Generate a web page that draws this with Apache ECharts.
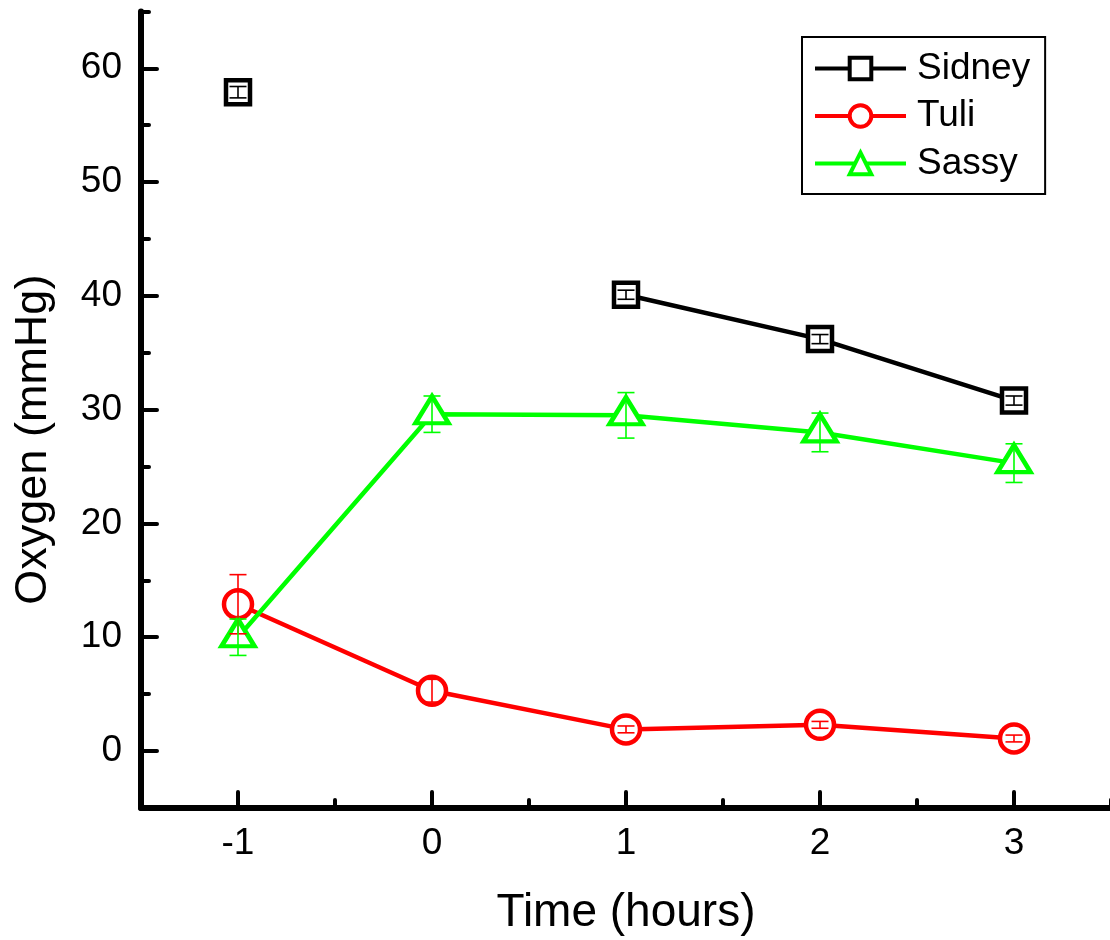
<!DOCTYPE html>
<html><head><meta charset="utf-8">
<script src="https://cdn.jsdelivr.net/npm/echarts@6/dist/echarts.min.js"></script>
<style>html,body{margin:0;padding:0;background:#fff}#c{width:1110px;height:940px}</style>
</head><body><div id="c"></div>
<script>
// ---- data ----
const times = [-1, 0, 1, 2, 3];
const seriesNames = ['Sidney', 'Tuli', 'Sassy'];
const sidney = [57.9, null, 40.1, 36.2, 30.8];
const sidneyErr = [0.5, null, 0.4, 0.4, 0.4];
const tuli = [12.9, 5.3, 1.9, 2.3, 1.1];
const tuliErr = [2.6, 1.0, 0.3, 0.3, 0.3];
const sassy = [10.0, 29.6, 29.5, 28.0, 25.3];
const sassyErr = [1.6, 1.6, 2.0, 1.7, 1.7];
const xTickLabels = [-1, 0, 1, 2, 3];
const yTickLabels = [0, 10, 20, 30, 40, 50, 60];
const xRange = [-1.5, 3.5];
const yRange = [-5, 65];
const xMinorStep = 0.5;
const yMinorStep = 5;

// ---- helpers ----
const FONT = '"Liberation Sans", Arial, sans-serif';
const near = (a, b) => Math.abs(a - b) < 1e-6;
function steps(r, s) { const out = []; for (let v = r[0]; v <= r[1] + 1e-9; v += s) out.push(+v.toFixed(6)); return out; }
const xCats = steps(xRange, xMinorStep);
const yCats = steps(yRange, yMinorStep);
const xMajor = (i) => xTickLabels.some(t => near(t, xCats[i]));
const yMajor = (i) => yTickLabels.some(t => near(t, yCats[i]));

const colors = { Sidney: '#000000', Tuli: '#ff0000', Sassy: '#00ff00' };

function lineSeries(name, vals, symbol, size, offset) {
  return {
    name, type: 'line', xAxisIndex: 0, yAxisIndex: 0, z: 2,
    data: times.map((t, i) => [t, vals[i] == null ? '-' : vals[i]]),
    symbol, symbolSize: size, symbolOffset: offset || [0, 0], showSymbol: true,
    itemStyle: { color: '#ffffff', borderColor: colors[name], borderWidth: 4.5 },
    lineStyle: { color: colors[name], width: 4.5 },
    emphasis: { disabled: true }, animation: false
  };
}
function errSeries(name, vals, errs) {
  const c = colors[name];
  return {
    type: 'custom', xAxisIndex: 0, yAxisIndex: 0, z: 5, silent: true, animation: false,
    data: times.map((t, i) => vals[i] == null ? null : [t, vals[i] - errs[i], vals[i] + errs[i]]).filter(Boolean),
    encode: { x: 0, y: [1, 2] },
    renderItem(params, api) {
      const lo = api.coord([api.value(0), api.value(1)]);
      const hi = api.coord([api.value(0), api.value(2)]);
      const w = 8.5, st = { stroke: c, lineWidth: 1.6 };
      return { type: 'group', children: [
        { type: 'line', shape: { x1: hi[0], y1: hi[1], x2: lo[0], y2: lo[1] }, style: st },
        { type: 'line', shape: { x1: hi[0] - w, y1: hi[1], x2: hi[0] + w, y2: hi[1] }, style: st },
        { type: 'line', shape: { x1: lo[0] - w, y1: lo[1], x2: lo[0] + w, y2: lo[1] }, style: st }
      ]};
    }
  };
}

const axisLineStyle = { color: '#000', width: 6, cap: 'round' };
const tickStyle = { color: '#000', width: 4, cap: 'round' };

const option = {
  animation: false,
  backgroundColor: '#fff',
  textStyle: { fontFamily: FONT },
  grid: { left: 141, right: -1, top: 11.4, bottom: 132.1, containLabel: false, outerBoundsMode: 'none' },
  legend: {
    data: seriesNames, orient: 'vertical', left: 802, top: 37,
    padding: [13, 15, 12, 11], borderColor: '#000', borderWidth: 2,
    itemWidth: 91, itemHeight: 27, itemGap: 10.5,
    itemStyle: { borderWidth: 4 }, lineStyle: { width: 4 },
    textStyle: { fontSize: 37, color: '#000', fontFamily: FONT, padding: [0, 0, 0, 6] }
  },
  xAxis: [
    {
      type: 'value', min: xRange[0], max: xRange[1], interval: xMinorStep, position: 'bottom',
      axisLine: { onZero: false, lineStyle: axisLineStyle },
      axisTick: { inside: true, length: 8, lineStyle: tickStyle },
      axisLabel: {
        fontSize: 37, color: '#000', fontFamily: FONT, margin: 17,
        formatter: v => { const t = xTickLabels.find(x => near(x, v)); return t === undefined ? '' : String(t); }
      },
      splitLine: { show: false },
      name: 'Time (hours)', nameLocation: 'middle', nameGap: 82,
      nameTextStyle: { fontSize: 46, color: '#000', fontFamily: FONT }
    },
    {
      type: 'category', data: xCats.map(String), boundaryGap: false, position: 'bottom',
      axisLine: { show: false, onZero: false },
      axisTick: { show: true, inside: true, length: 16, interval: (i) => xMajor(i), lineStyle: tickStyle },
      axisLabel: { show: false }, splitLine: { show: false }
    }
  ],
  yAxis: [
    {
      type: 'value', min: yRange[0], max: yRange[1], interval: yMinorStep, position: 'left',
      axisLine: { onZero: false, lineStyle: axisLineStyle },
      axisTick: { inside: true, length: 8, lineStyle: tickStyle },
      axisLabel: {
        fontSize: 37, color: '#000', fontFamily: FONT, margin: 19,
        formatter: v => { const t = yTickLabels.find(x => near(x, v)); return t === undefined ? '' : String(t); }
      },
      splitLine: { show: false },
      name: 'Oxygen (mmHg)', nameLocation: 'middle', nameGap: 85,
      nameTextStyle: { fontSize: 45, color: '#000', fontFamily: FONT, padding: [0, 60, 0, 0] }
    },
    {
      type: 'category', data: yCats.map(String), boundaryGap: false, position: 'left',
      axisLine: { show: false, onZero: false },
      axisTick: { show: true, inside: true, length: 16, interval: (i) => yMajor(i), lineStyle: tickStyle },
      axisLabel: { show: false }, splitLine: { show: false }
    }
  ],
  series: [
    lineSeries('Sidney', sidney, 'rect', 24),
    lineSeries('Tuli', tuli, 'circle', 28),
    lineSeries('Sassy', sassy, 'triangle', [33, 27], [0, -4.5]),
    errSeries('Sidney', sidney, sidneyErr),
    errSeries('Tuli', tuli, tuliErr),
    errSeries('Sassy', sassy, sassyErr)
  ]
};
const chart = echarts.init(document.getElementById('c'), null, { renderer: 'canvas' });
chart.setOption(option);
</script>
</body></html>
